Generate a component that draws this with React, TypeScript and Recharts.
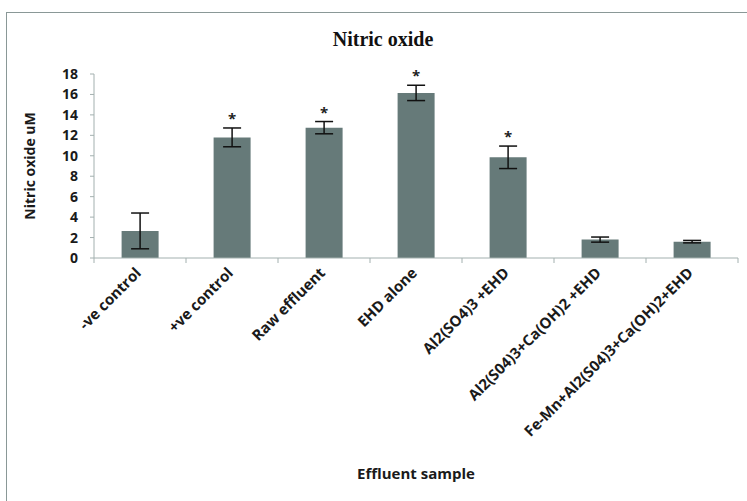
import {
  ComposedChart,
  Bar,
  Line,
  XAxis,
  YAxis,
  ErrorBar,
  Label,
} from "recharts";

const categories = [
  "-ve control",
  "+ve control",
  "Raw effluent",
  "EHD alone",
  "Al2(SO4)3 +EHD",
  "Al2(S04)3+Ca(OH)2 +EHD",
  "Fe-Mn+Al2(S04)3+Ca(OH)2+EHD",
];
const nitricOxide = [2.65, 11.8, 12.75, 16.15, 9.85, 1.8, 1.6];
const errors = [1.75, 0.92, 0.6, 0.75, 1.1, 0.25, 0.12];
const significant = [false, true, true, true, true, false, false];
const yTicks = [0, 2, 4, 6, 8, 10, 12, 14, 16, 18];

const BAR_COLOR = "#667a79";
const AXIS_COLOR = "#a3b0af";
const FONT = "'Open Sans', sans-serif";

const chartData = categories.map((name, i) => ({
  name,
  value: nitricOxide[i],
  err: errors[i],
  sigTop: significant[i] ? nitricOxide[i] + errors[i] : null,
}));

function XTick(props: any) {
  const { x, y, payload, index } = props;
  const off = payload.offset ?? 0;
  const last = index === categories.length - 1;
  const tx = x + 2;
  const ty = y + 8;
  return (
    <g>
      <line x1={x - off} x2={x - off} y1={y - 8} y2={y - 3} stroke={AXIS_COLOR} />
      {last && (
        <line x1={x + off} x2={x + off} y1={y - 8} y2={y - 3} stroke={AXIS_COLOR} />
      )}
      <text
        x={tx}
        y={ty}
        textAnchor="end"
        transform={`rotate(-45 ${tx} ${ty})`}
        fontFamily={FONT}
        fontWeight="bold"
        fontSize={15}
        fill="#1a1a1a"
      >
        {payload.value}
      </text>
    </g>
  );
}

function Star(props: any) {
  const { cx, cy, index } = props;
  if (cy == null || cx == null) return <g key={index} />;
  return (
    <text
      key={index}
      x={cx}
      y={cy - 4}
      textAnchor="middle"
      fontFamily={FONT}
      fontWeight="bold"
      fontSize={15}
      fill="#222"
    >
      *
    </text>
  );
}

export default function App() {
  return (
    <div
      style={{
        position: "absolute",
        left: 0,
        top: 0,
        width: 747,
        height: 501,
        overflow: "hidden",
        background: "#fff",
      }}
    >
      <div
        style={{
          position: "absolute",
          left: 6,
          top: 12,
          width: 780,
          height: 560,
          border: "1px solid #8a9897",
        }}
      />
      <div
        style={{
          position: "absolute",
          left: 0,
          width: 766,
          top: 28,
          textAlign: "center",
          fontFamily: "'Liberation Serif', serif",
          fontWeight: "bold",
          fontSize: 20,
          color: "#111",
        }}
      >
        Nitric oxide
      </div>
      <div style={{ position: "absolute", left: 0, top: 0 }}>
        <ComposedChart
          width={747}
          height={501}
          data={chartData}
          margin={{ top: 74, right: 9, left: 0, bottom: 0 }}
          barCategoryGap="30%"
        >
          <XAxis
            dataKey="name"
            interval={0}
            height={243}
            axisLine={{ stroke: AXIS_COLOR }}
            tickLine={false}
            tick={<XTick />}
          >
            <Label
              value="Effluent sample"
              position="insideBottom"
              offset={22}
              style={{
                fontFamily: FONT,
                fontWeight: "bold",
                fontSize: 15,
                fill: "#1a1a1a",
              }}
            />
          </XAxis>
          <YAxis
            domain={[0, 18]}
            ticks={yTicks}
            width={94}
            interval={0}
            axisLine={{ stroke: AXIS_COLOR }}
            tickLine={{ stroke: AXIS_COLOR }}
            tickSize={4}
            tick={{
              fontFamily: FONT,
              fontWeight: "bold",
              fontSize: 14,
              fill: "#1a1a1a",
              dx: -10,
            }}
          >
            <Label
              value="Nitric oxide uM"
              angle={-90}
              position="insideLeft"
              offset={30}
              style={{
                fontFamily: FONT,
                fontWeight: "bold",
                fontSize: 14,
                fill: "#1a1a1a",
                textAnchor: "middle",
              }}
            />
          </YAxis>
          <Bar dataKey="value" fill={BAR_COLOR} isAnimationActive={false}>
            <ErrorBar
              dataKey="err"
              width={9}
              stroke="#111"
              strokeWidth={1.5}
            />
          </Bar>
          <Line
            dataKey="sigTop"
            stroke="none"
            dot={<Star />}
            activeDot={false}
            isAnimationActive={false}
            connectNulls={false}
          />
        </ComposedChart>
      </div>
    </div>
  );
}
